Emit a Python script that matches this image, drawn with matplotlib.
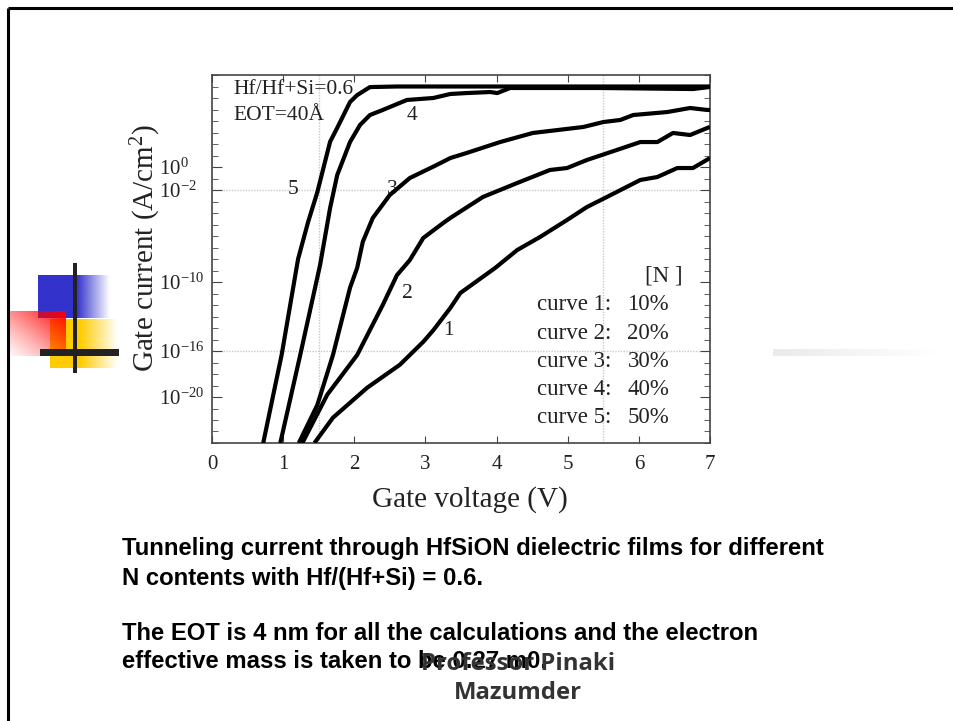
import numpy as np
import matplotlib
matplotlib.use("Agg")
from matplotlib import pyplot as plt

plt.rcParams["font.family"] = ["Liberation Serif", "DejaVu Serif"]
plt.rcParams["mathtext.fontset"] = "custom"
plt.rcParams["mathtext.rm"] = "Liberation Serif"
plt.rcParams["mathtext.it"] = "Liberation Serif:italic"

# gate voltage (V) vs log10 of gate current density (A/cm^2), one pair per N content
v1 = [1.44, 1.70, 2.18, 2.64, 2.97, 3.11, 3.35, 3.49, 3.98, 4.29, 4.61, 4.99, 5.27, 5.55, 6.02, 6.26, 6.54, 6.76, 7.0]
j1 = [-24, -21.8, -19.2, -17.2, -15.2, -14.2, -12.26, -10.96, -8.78, -7.22, -6.09, -4.61, -3.48, -2.61, -1.13, -0.87, -0.09, -0.09, 0.78]

v2 = [1.27, 1.62, 2.04, 2.40, 2.60, 2.78, 2.97, 3.25, 3.35, 3.81, 4.29, 4.75, 4.99, 5.27, 5.69, 6.02, 6.26, 6.48, 6.72, 6.96, 7.0]
j2 = [-24, -19.8, -16.35, -12.0, -9.4, -8.1, -6.17, -4.87, -4.43, -2.6, -1.39, -0.26, -0.09, 0.61, 1.48, 2.17, 2.17, 2.96, 2.78, 3.39, 3.48]

v3 = [1.22, 1.48, 1.70, 1.94, 2.04, 2.12, 2.26, 2.50, 2.78, 3.13, 3.35, 3.58, 4.05, 4.51, 5.22, 5.50, 5.74, 5.92, 6.40, 6.72, 6.96, 7.0]
j3 = [-24, -20.7, -16.35, -10.5, -8.78, -6.5, -4.43, -2.43, -0.96, 0.09, 0.78, 1.22, 2.17, 2.96, 3.48, 3.91, 4.09, 4.52, 4.78, 5.13, 4.96, 4.96]

v4 = [0.96, 1.24, 1.52, 1.66, 1.76, 1.94, 2.08, 2.22, 2.40, 2.74, 3.11, 3.35, 3.58, 3.91, 4.01, 4.19, 5.45, 6.76, 7.0]
j4 = [-24, -16.35, -8.5, -3.57, -0.7, 2.17, 3.65, 4.52, 4.96, 5.83, 6.0, 6.35, 6.43, 6.52, 6.43, 6.87, 6.87, 6.78, 6.96]

v5 = [0.72, 0.98, 1.21, 1.35, 1.48, 1.66, 1.76, 1.94, 2.04, 2.22, 2.6, 3.5, 4.5, 5.5, 6.5, 7.0]
j5 = [-24, -16.3, -8.0, -4.8, -2.2, 2.2, 3.4, 5.65, 6.25, 6.95, 7.0, 7.0, 7.0, 7.0, 7.0, 7.0]

curve_names = ["1", "2", "3", "4", "5"]
n_content = ["10%", "20%", "30%", "40%", "50%"]

x_ticks = [0, 1, 2, 3, 4, 5, 6, 7]
y_ticks = [0, -2, -10, -16, -20]
y_ticklabels = [r"$10^{0}$", r"$10^{-2}$", r"$10^{-10}$", r"$10^{-16}$", r"$10^{-20}$"]

caption = ["Tunneling current through HfSiON dielectric films for different",
           "N contents with Hf/(Hf+Si) = 0.6.",
           "",
           "The EOT is 4 nm for all the calculations and the electron",
           "effective mass is taken to be 0.27 m0."]

W, H = 954, 721
fig = plt.figure(figsize=(W / 100, H / 100), dpi=100)

# slide background: border, colour blocks, caption (pixel coordinates)
bg = fig.add_axes([0, 0, 1, 1], zorder=0)
bg.set_xlim(0, W)
bg.set_ylim(H, 0)
bg.axis("off")

bg.plot([8, W], [8, 8], color="black", lw=2.2, solid_capstyle="butt")
bg.plot([8, 8], [8, H], color="black", lw=2.2, solid_capstyle="butt")

def hgrad(rgb, x0, x1, y0, y1, solid_to):
    xs = np.linspace(x0, x1, 200)
    a = np.clip(1 - (xs - solid_to) / (x1 - solid_to), 0, 1)
    img = np.zeros((2, len(xs), 4))
    img[..., :3] = rgb
    img[..., 3] = a
    bg.imshow(img, extent=[x0, x1, y1, y0], origin="upper", aspect="auto", interpolation="bilinear")

hgrad((0.2, 0.2, 0.8), 38, 110, 275, 318, 77)
hgrad((1.0, 0.8, 0.0), 50, 118, 319, 368, 80)

# red block fades from the top-right corner
u = np.linspace(0, 1, 100)[None, :]
v = np.linspace(0, 1, 100)[:, None]
red = np.zeros((100, 100, 4))
red[..., 0] = 1.0
red[..., 3] = np.clip(0.08 + 0.92 * (u + (1 - v)) / 2, 0, 1) ** 1.3
bg.imshow(red, extent=[10, 66, 356, 311], origin="upper", aspect="auto", interpolation="bilinear")

bg.add_patch(plt.Rectangle((40, 349), 79, 7, color="#222222", lw=0))
bg.add_patch(plt.Rectangle((73, 263), 4, 110, color="#222222", lw=0))

gray = np.zeros((2, 200, 4))
gray[..., :3] = 0.92
gray[..., 3] = np.linspace(1, 0, 200)
bg.imshow(gray, extent=[773, 937, 356, 349], origin="upper", aspect="auto", interpolation="bilinear")
bg.set_xlim(0, W)
bg.set_ylim(H, 0)

line_y = [548, 578, 606, 634, 662]
for text, y in zip(caption, line_y):
    if text:
        bg.text(122, y, text, fontsize=17.2, fontweight="bold", family="Liberation Sans",
                va="center", ha="left", color="black")
bg.text(518, 664, "Professor Pinaki", fontsize=17.2, fontweight="bold", family="Open Sans",
        va="center", ha="center", color="#333333")
bg.text(518, 693, "Mazumder", fontsize=17.2, fontweight="bold", family="Open Sans",
        va="center", ha="center", color="#333333")

# the chart itself
ax = fig.add_axes([212 / W, 1 - 443 / H, 498 / W, 368 / H], zorder=1)
ax.set_xlim(0, 7)
ax.set_ylim(-24, 8)

for g in (1.5, 5.5):
    ax.axvline(g, color="#c8c8c8", lw=1, ls=(0, (1, 1)), zorder=1)
for g in (-2, -16):
    ax.axhline(g, color="#c8c8c8", lw=1, ls=(0, (1, 1)), zorder=1)

for vv, jj in zip([v1, v2, v3, v4, v5], [j1, j2, j3, j4, j5]):
    ax.plot(vv, jj, color="black", lw=3, solid_joinstyle="round", solid_capstyle="butt", zorder=3)

for sp in ax.spines.values():
    sp.set_color("#444444")
    sp.set_linewidth(1.2)

ax.set_xticks(x_ticks)
ax.set_xticklabels([str(t) for t in x_ticks])
ax.set_yticks(y_ticks)
ax.set_yticklabels(y_ticklabels, ha="left")
ax.set_yticks(np.arange(-24, 9, 1), minor=True)
ax.tick_params(axis="both", which="both", direction="in", top=True, right=True, color="#444444")
ax.tick_params(axis="x", which="major", length=5, labelsize=15, pad=9, labelcolor="#222222")
ax.tick_params(axis="y", which="major", length=7, labelsize=15, pad=38, labelcolor="#222222")
ax.tick_params(axis="y", which="minor", length=4)

ax.set_xlabel("Gate voltage (V)", fontsize=21, color="#222222")
ax.xaxis.set_label_coords(0.518, -0.118)
ax.set_ylabel(r"Gate current (A/cm$^{2}$)", fontsize=21, color="#222222")
ax.yaxis.set_label_coords(-0.098, 0.531)

# text inside the plot
ax.text(0.30, 6.7, "Hf/Hf+Si=0.6", fontsize=15.5, va="center", ha="left", color="#222222")
ax.text(0.30, 4.5, "EOT=40Å", fontsize=15.5, va="center", ha="left", color="#222222")

label_pos = [(3.33, -14.26), (2.75, -10.96), (2.54, -2.0), (2.81, 4.52), (1.14, -2.0)]
for name, (lx, ly) in zip(curve_names, label_pos):
    ax.text(lx, ly, name, fontsize=15.5, va="center", ha="center", color="#222222", zorder=2)

ax.text(6.62, -9.5, "[N ]", fontsize=16.5, va="center", ha="right", color="#222222")
for i, (name, pct) in enumerate(zip(curve_names, n_content)):
    yy = -12.0 - 2.45 * i
    ax.text(4.57, yy, "curve " + name + ":", fontsize=16.5, va="center", ha="left", color="#222222")
    ax.text(5.84, yy, pct, fontsize=16.5, va="center", ha="left", color="#222222")

fig.savefig("out.png", dpi=100)
